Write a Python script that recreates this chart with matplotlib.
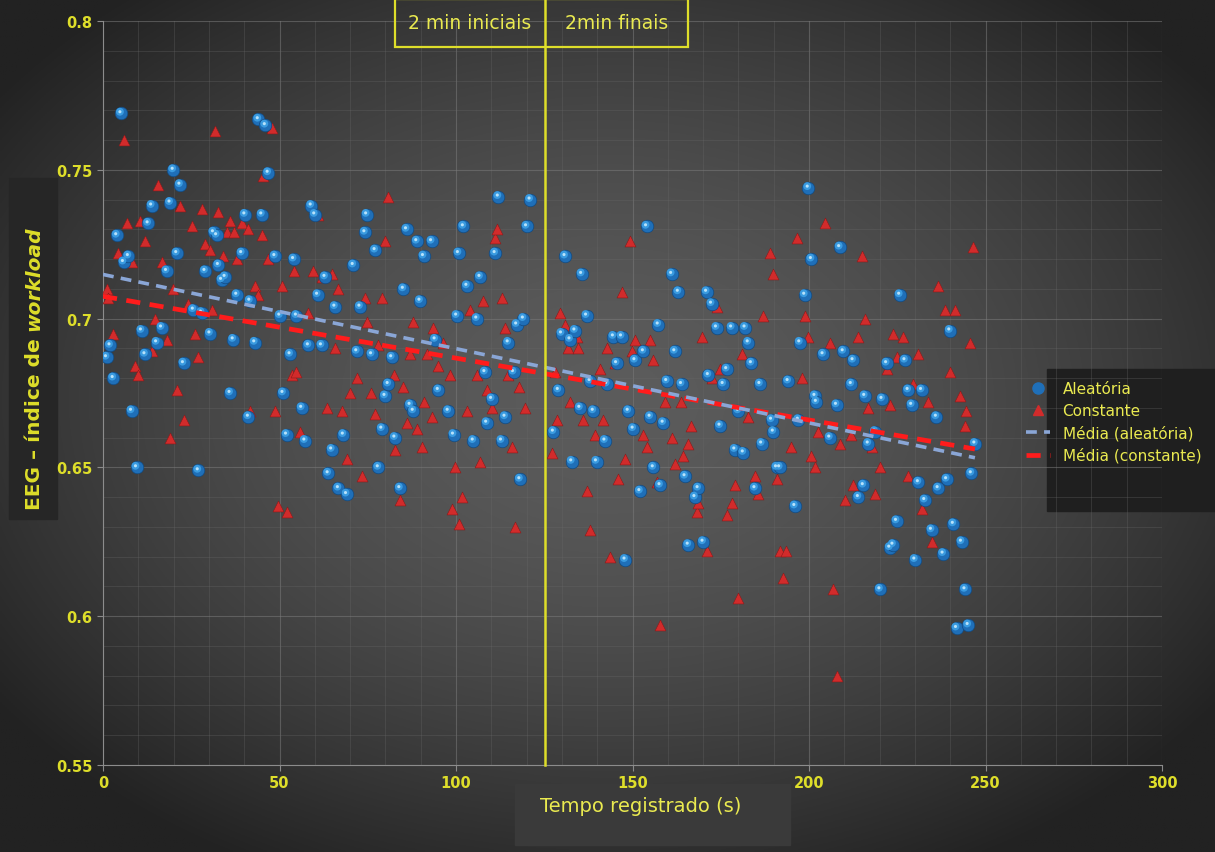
import numpy as np
import matplotlib
matplotlib.use("Agg")
import matplotlib.pyplot as plt
from matplotlib.patches import Rectangle
from matplotlib.lines import Line2D
from matplotlib.transforms import offset_copy

# EEG workload index, random condition (time in s, index)
t_aleatoria = [
    1.0, 2.0, 2.9, 3.9, 5.1, 5.8, 7.2, 8.1, 9.5, 10.9, 11.9, 12.8, 13.8, 15.2, 16.6, 18.0,
    19.0, 19.9, 20.9, 21.8, 22.8, 25.6, 27.0, 27.9, 28.9, 30.3, 31.3, 32.2, 32.7, 33.6, 34.6,
    36.0, 36.9, 37.9, 39.3, 40.2, 41.2, 41.6, 43.0, 44.0, 45.0, 46.0, 46.8, 48.7, 50.1, 51.0,
    52.0, 53.0, 54.0, 54.8, 56.3, 57.2, 58.2, 59.0, 60.0, 60.8, 61.9, 62.9, 63.8, 64.8, 65.7,
    66.7, 68.1, 69.0, 70.9, 71.9, 72.8, 74.2, 74.7, 76.1, 77.1, 78.0, 79.0, 79.9, 80.8, 81.8,
    82.7, 84.1, 85.1, 86.0, 87.0, 87.9, 88.9, 89.8, 90.8, 93.1, 94.1, 95.0, 97.8, 99.3, 100.2,
    100.7, 102.1, 103.1, 104.9, 105.9, 106.8, 108.2, 108.7, 110.1, 111.1, 112.0, 112.9, 113.9,
    114.8, 116.3, 117.2, 118.1, 119.1, 120.0, 121.0, 127.6, 129.0, 129.9, 130.9, 132.3, 132.8,
    133.7, 135.1, 135.6, 137.0, 138.0, 138.9, 139.8, 142.2, 142.7, 144.6, 145.5, 146.9, 147.9,
    148.8, 150.2, 150.7, 152.1, 153.1, 154.0, 155.0, 155.9, 157.3, 157.8, 158.7, 159.7, 161.1,
    162.0, 163.0, 163.9, 164.9, 165.8, 167.7, 168.6, 170.0, 171.0, 171.5, 172.4, 173.8, 174.8,
    175.7, 176.7, 178.1, 179.0, 180.0, 181.4, 181.9, 182.8, 183.7, 184.7, 186.1, 186.6, 189.4,
    189.9, 190.8, 191.7, 194.1, 196.0, 197.0, 197.4, 198.8, 199.8, 200.7, 201.7, 202.1, 204.0,
    205.9, 207.8, 208.7, 209.7, 212.0, 212.5, 214.0, 215.4, 215.8, 216.8, 218.7, 220.1, 220.7,
    222.0, 222.9, 223.8, 224.8, 225.7, 227.2, 228.1, 229.1, 230.0, 231.0, 231.9, 232.8, 234.7,
    236.1, 236.6, 238.0, 239.0, 239.9, 240.9, 241.8, 243.2, 244.2, 245.1, 246.0, 247.0,
]
v_aleatoria = [
    0.687, 0.691, 0.680, 0.728, 0.769, 0.719, 0.721, 0.669, 0.650, 0.696, 0.688, 0.732, 0.738, 0.692, 0.697, 0.716,
    0.739, 0.750, 0.722, 0.745, 0.685, 0.703, 0.649, 0.702, 0.716, 0.695, 0.729, 0.728, 0.718, 0.713, 0.714,
    0.675, 0.693, 0.708, 0.722, 0.735, 0.667, 0.706, 0.692, 0.767, 0.735, 0.765, 0.749, 0.721, 0.701, 0.675,
    0.661, 0.688, 0.720, 0.701, 0.670, 0.659, 0.691, 0.738, 0.735, 0.708, 0.691, 0.714, 0.648, 0.656, 0.704,
    0.643, 0.661, 0.641, 0.718, 0.689, 0.704, 0.729, 0.735, 0.688, 0.723, 0.650, 0.663, 0.674, 0.678, 0.687,
    0.660, 0.643, 0.710, 0.730, 0.671, 0.669, 0.726, 0.706, 0.721, 0.726, 0.693, 0.676, 0.669, 0.661, 0.701,
    0.722, 0.731, 0.711, 0.659, 0.700, 0.714, 0.682, 0.665, 0.673, 0.722, 0.741, 0.659, 0.667,
    0.692, 0.682, 0.698, 0.646, 0.700, 0.731, 0.740, 0.662, 0.676, 0.695, 0.721, 0.693, 0.652,
    0.696, 0.670, 0.715, 0.701, 0.679, 0.669, 0.652, 0.659, 0.678, 0.694, 0.685, 0.694, 0.619,
    0.669, 0.663, 0.686, 0.642, 0.689, 0.731, 0.667, 0.650, 0.698, 0.644, 0.665, 0.679, 0.715,
    0.689, 0.709, 0.678, 0.647, 0.624, 0.640, 0.643, 0.625, 0.709, 0.681, 0.705, 0.697, 0.664,
    0.678, 0.683, 0.697, 0.656, 0.669, 0.655, 0.697, 0.692, 0.685, 0.643, 0.678, 0.658, 0.666,
    0.662, 0.650, 0.650, 0.679, 0.637, 0.666, 0.692, 0.708, 0.744, 0.720, 0.674, 0.672, 0.688,
    0.660, 0.671, 0.724, 0.689, 0.678, 0.686, 0.640, 0.644, 0.674, 0.658, 0.662, 0.609, 0.673,
    0.685, 0.623, 0.624, 0.632, 0.708, 0.686, 0.676, 0.671, 0.619, 0.645, 0.676, 0.639, 0.629,
    0.667, 0.643, 0.621, 0.646, 0.696, 0.631, 0.596, 0.625, 0.609, 0.597, 0.648, 0.658,
]

# EEG workload index, constant condition
t_constante = [
    1.0, 1.5, 2.9, 4.3, 5.8, 6.7, 8.1, 9.1, 10.0, 10.5, 12.0, 13.8, 14.7, 15.7, 16.6, 18.0,
    19.0, 19.9, 20.9, 21.8, 22.8, 24.2, 25.1, 26.0, 27.0, 27.9, 28.9, 30.3, 30.8, 31.7, 32.7,
    34.0, 35.0, 36.0, 37.0, 37.9, 39.3, 41.2, 41.6, 43.0, 44.0, 45.0, 45.4, 46.8, 47.8, 48.7,
    49.7, 50.6, 52.0, 53.4, 54.0, 54.8, 55.8, 58.2, 59.6, 61.0, 62.0, 63.4, 64.8, 65.7, 66.7,
    67.6, 69.0, 70.0, 71.9, 73.3, 74.2, 74.7, 75.8, 77.1, 78.0, 79.0, 79.9, 80.8, 82.3, 82.7,
    84.1, 85.1, 86.0, 87.0, 87.9, 88.9, 90.3, 90.8, 91.7, 93.1, 93.6, 95.0, 96.4, 98.3, 98.8,
    99.7, 100.7, 101.6, 103.1, 104.0, 105.9, 106.8, 107.7, 108.7, 110.1, 111.1, 111.5, 112.9,
    113.9, 114.8, 115.8, 116.7, 117.7, 119.6, 127.1, 128.0, 128.5, 129.5, 130.9, 131.8, 132.3,
    134.2, 134.6, 136.1, 137.0, 138.0, 139.4, 140.8, 141.7, 142.7, 143.6, 145.0, 146.0, 146.9,
    147.9, 149.3, 149.8, 150.7, 153.1, 154.0, 155.0, 155.9, 156.8, 157.8, 159.2, 161.1, 162.0,
    163.6, 164.2, 165.8, 166.7, 168.2, 168.6, 169.6, 171.0, 172.4, 173.8, 174.8, 176.7, 178.1,
    179.0, 180.0, 180.9, 182.8, 184.7, 185.6, 187.1, 188.9, 189.9, 190.8, 191.7, 192.7, 193.6,
    195.0, 196.5, 197.9, 198.8, 199.8, 200.7, 201.7, 202.6, 204.5, 205.9, 206.9, 207.8, 208.7,
    210.2, 212.0, 212.5, 213.9, 214.9, 215.8, 216.8, 217.7, 218.7, 220.1, 222.0, 222.9, 223.9,
    224.8, 226.7, 228.1, 229.5, 231.0, 231.9, 233.8, 234.7, 236.6, 238.5, 240.0, 241.3, 242.7,
    244.2, 244.6, 245.6, 246.5,
]
v_constante = [
    0.710, 0.707, 0.695, 0.722, 0.760, 0.732, 0.719, 0.684, 0.681, 0.733, 0.726, 0.689, 0.700, 0.745, 0.719, 0.693,
    0.660, 0.710, 0.676, 0.738, 0.666, 0.705, 0.731, 0.695, 0.687, 0.737, 0.725, 0.723, 0.703, 0.763, 0.736,
    0.721, 0.729, 0.733, 0.729, 0.720, 0.732, 0.730, 0.669, 0.711, 0.708, 0.728, 0.748, 0.720, 0.764, 0.669,
    0.637, 0.711, 0.635, 0.681, 0.716, 0.682, 0.662, 0.702, 0.716, 0.735, 0.714, 0.670, 0.715, 0.690, 0.710,
    0.669, 0.653, 0.675, 0.680, 0.647, 0.707, 0.699, 0.675, 0.668, 0.691, 0.707, 0.726, 0.741, 0.681, 0.656,
    0.639, 0.677, 0.665, 0.688, 0.699, 0.663, 0.657, 0.672, 0.688, 0.667, 0.697, 0.684, 0.692, 0.681, 0.636,
    0.650, 0.631, 0.640, 0.669, 0.703, 0.681, 0.652, 0.706, 0.676, 0.670, 0.727, 0.730, 0.707,
    0.697, 0.681, 0.657, 0.630, 0.677, 0.670, 0.655, 0.682, 0.666, 0.702, 0.698, 0.690, 0.672,
    0.694, 0.690, 0.666, 0.642, 0.629, 0.661, 0.683, 0.666, 0.690, 0.620, 0.685, 0.646, 0.709,
    0.653, 0.726, 0.689, 0.693, 0.661, 0.657, 0.693, 0.686, 0.645, 0.597, 0.672, 0.660, 0.651,
    0.672, 0.654, 0.658, 0.664, 0.635, 0.638, 0.694, 0.622, 0.680, 0.704, 0.683, 0.634, 0.638,
    0.644, 0.606, 0.688, 0.667, 0.647, 0.641, 0.701, 0.722, 0.715, 0.646, 0.622, 0.613, 0.622,
    0.657, 0.727, 0.680, 0.701, 0.694, 0.654, 0.650, 0.662, 0.732, 0.692, 0.609, 0.580, 0.658,
    0.639, 0.661, 0.644, 0.694, 0.721, 0.700, 0.670, 0.657, 0.641, 0.650, 0.683, 0.671, 0.695,
    0.687, 0.694, 0.647, 0.678, 0.688, 0.636, 0.672, 0.625, 0.711, 0.703, 0.682, 0.703, 0.674,
    0.664, 0.669, 0.692, 0.724,
]

x_ticks = [0, 50, 100, 150, 200, 250, 300]
y_ticks = [0.55, 0.6, 0.65, 0.7, 0.75, 0.8]
y_tick_labels = ["0.55", "0.6", "0.65", "0.7", "0.75", "0.8"]
t_divisao = 125.3
yellow = "#dede2a"
text_yellow = "#eaea50"
fonts = ["Liberation Sans Narrow", "DejaVu Sans"]

fig = plt.figure(figsize=(12.15, 8.53), dpi=100)

# dark vignette background
bg = fig.add_axes([0, 0, 1, 1], zorder=-10)
yy, xx = np.mgrid[0:1:400j, 0:1:560j]
r = np.sqrt(((xx - 0.5) / 0.62) ** 2 + ((yy - 0.47) / 0.62) ** 2)
shade = 92 - 58 * np.clip(r, 0, 1) ** 1.6
img = np.dstack([shade, shade, shade]) / 255.0
bg.imshow(img, extent=[0, 1, 0, 1], aspect="auto", origin="upper")
bg.set_axis_off()

ax = fig.add_axes([0.0848, 0.102, 0.8716, 0.872])
ax.set_facecolor("none")
ax.set_xlim(0, 300)
ax.set_ylim(0.55, 0.8)

ax.set_xticks(np.arange(0, 301, 10), minor=True)
ax.set_yticks(np.arange(0.55, 0.8001, 0.01), minor=True)
ax.set_xticks(x_ticks)
ax.set_yticks(y_ticks)
ax.set_yticklabels(y_tick_labels)
ax.grid(which="minor", color="#6a6a6a", lw=0.6, alpha=0.35)
ax.grid(which="major", color="#7a7a7a", lw=0.8, alpha=0.55)
ax.tick_params(which="minor", length=0)
ax.tick_params(which="major", colors="#8a8a8a", length=4, labelcolor=yellow, labelsize=10.5)
for lab in ax.get_xticklabels() + ax.get_yticklabels():
    lab.set_fontweight("bold")
    lab.set_family(fonts)
for side in ["top", "right"]:
    ax.spines[side].set_visible(False)
for side in ["left", "bottom"]:
    ax.spines[side].set_color("#8c8c8c")

ta, va = np.array(t_aleatoria), np.array(v_aleatoria)
tc, vc = np.array(t_constante), np.array(v_constante)

# constant: red triangles, random: shaded blue spheres
ax.scatter(tc, vc, marker="^", s=62, color="#d22b2b", edgecolors="#8a1a1a", linewidths=0.4, zorder=3)
ax.scatter(ta, va, marker="o", s=82, color="#1f6fb8", edgecolors="#124a80", linewidths=0.5, zorder=4)
hl = offset_copy(ax.transData, fig=fig, x=-0.8, y=1.2, units="points")
ax.scatter(ta, va, marker="o", s=32, color="#3a9be0", edgecolors="none", transform=hl, zorder=5)
ax.scatter(ta, va, marker="o", s=5, color="#b8e2fa", edgecolors="none", transform=hl, zorder=6)

# linear trends for each condition
xs = np.array([0, 247])
pa = np.polyfit(ta, va, 1)
pc = np.polyfit(tc, vc, 1)
ax.plot(xs, np.polyval(pa, xs), color="#8aa6d6", lw=2.6, ls=(0, (3, 2)), zorder=7)
ax.plot(xs, np.polyval(pc, xs), color="#ff1c1c", lw=3.4, ls=(0, (3, 2)), zorder=6)

# split between first and last two minutes
ax.axvline(t_divisao, ymin=0, ymax=1.035, color=yellow, lw=1.8, zorder=8, clip_on=False)
px_div = ax.transData.transform((t_divisao, 0.8))[0] / fig.bbox.width
fig.patches.append(Rectangle((0.325, 0.944), 0.241, 0.056, transform=fig.transFigure,
                             fill=False, ec=yellow, lw=1.6))
fig.text((0.325 + px_div) / 2, 0.972, "2 min iniciais", color=text_yellow, fontsize=13.5,
         ha="center", va="center", family=fonts)
fig.text((px_div + 0.566) / 2, 0.972, "2min finais", color=text_yellow, fontsize=13.5,
         ha="center", va="center", family=fonts)

# axis title boxes
fig.patches.append(Rectangle((0.007, 0.39), 0.04, 0.40, transform=fig.transFigure,
                             color="#262626", zorder=-5))
ylab1 = fig.text(0.028, 0.402, "EEG – índice de ", rotation=90, color=yellow, fontsize=14.5,
                 fontweight="bold", ha="center", va="bottom", family=fonts)
fig.canvas.draw()
top = fig.transFigure.inverted().transform(
    (0, ylab1.get_window_extent(fig.canvas.get_renderer()).y1))[1]
fig.text(0.028, top, "workload", rotation=90, color=yellow, fontsize=14.5,
         fontweight="bold", style="italic", ha="center", va="bottom", family=fonts)

fig.patches.append(Rectangle((0.424, 0.008), 0.226, 0.072, transform=fig.transFigure,
                             color="#3a3a3a", zorder=-5))
fig.text(0.527, 0.055, "Tempo registrado (s)", color=text_yellow, fontsize=14,
         ha="center", va="center", family=fonts)

# legend panel
fig.patches.append(Rectangle((0.862, 0.4), 0.138, 0.166, transform=fig.transFigure,
                             color="#1f1f1f", zorder=-5))
handles = [
    Line2D([], [], marker="o", ls="none", color="#1f6fb8", markersize=8),
    Line2D([], [], marker="^", ls="none", color="#d22b2b", markersize=7),
    Line2D([], [], color="#8aa6d6", lw=2.6, ls=(0, (3, 2))),
    Line2D([], [], color="#ff1c1c", lw=3.4, ls=(0, (3, 2))),
]
labels = ["Aleatória", "Constante", "Média (aleatória)", "Média (constante)"]
leg = fig.legend(handles, labels, loc="upper left", bbox_to_anchor=(0.833, 0.568),
                 frameon=False, handlelength=1.6, handletextpad=0.8, labelspacing=0.45,
                 prop={"family": fonts, "size": 11})
for txt in leg.get_texts():
    txt.set_color(text_yellow)

fig.savefig("out.png", dpi=100)
